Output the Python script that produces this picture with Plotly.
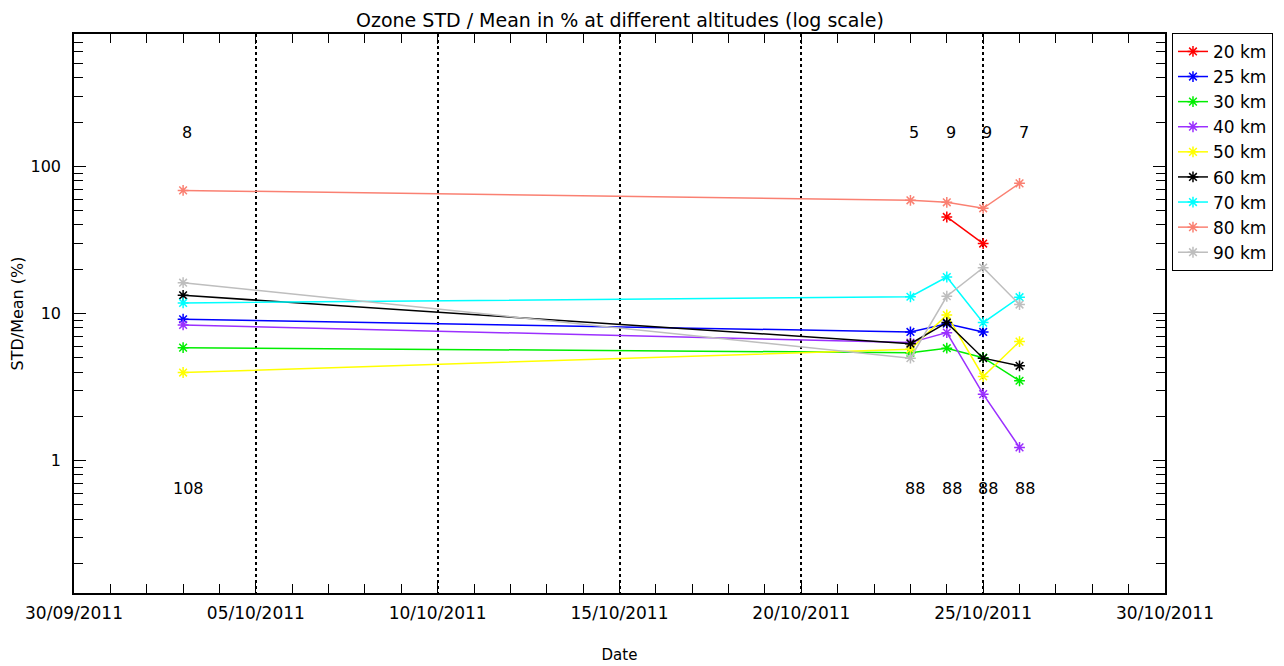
import plotly.graph_objects as go

dates = ["2011-10-03", "2011-10-23", "2011-10-24", "2011-10-25", "2011-10-26"]

s20 = [None, None, 45.3, 29.9, None]
s25 = [9.14, 7.49, 8.53, 7.49, None]
s30 = [5.86, 5.42, 5.81, 5.01, 3.49]
s40 = [8.36, 6.34, 7.41, 2.83, 1.23]
s50 = [3.97, 5.72, 9.77, 3.73, 6.44]
s60 = [13.3, 6.24, 8.67, 4.97, 4.41]
s70 = [11.8, 13.0, 17.7, 8.67, 12.9]
s80 = [68.7, 58.8, 57.0, 51.9, 76.7]
s90 = [16.2, 4.97, 13.1, 20.5, 11.5]

series_names = ["20 km", "25 km", "30 km", "40 km", "50 km", "60 km", "70 km", "80 km", "90 km"]
series_vals = [s20, s25, s30, s40, s50, s60, s70, s80, s90]
series_colors = ["#ff0000", "#0000ff", "#00ee00", "#9b30ff", "#ffff00", "#000000", "#00ffff", "#fa8072", "#bebebe"]

top_counts = ["8", "5", "9", "9", "7"]
bottom_counts = ["108", "88", "88", "88", "88"]
top_y_log = 2.23
bottom_y_log = -0.19

FONT = "DejaVu Sans"

# page body has an 8px default margin, so the figure is offset by 8px
L, R, T, B = 66, 127, 26, 81

fig = go.Figure()
for name, vals, col in zip(series_names, series_vals, series_colors):
    fig.add_trace(go.Scatter(
        x=dates, y=vals, name=name, mode="lines+markers",
        line=dict(color=col, width=1.5),
        marker=dict(symbol="asterisk-open", size=9, color=col, line=dict(color=col, width=1.5)),
        connectgaps=False,
    ))

for d, t in zip(dates, top_counts):
    fig.add_annotation(x=d, y=top_y_log, yref="y", text=t, showarrow=False, xanchor="center", xshift=4,
                       font=dict(family=FONT, size=16, color="black"))
for d, t in zip(dates, bottom_counts):
    fig.add_annotation(x=d, y=bottom_y_log, yref="y", text=t, showarrow=False, xanchor="center", xshift=5,
                       font=dict(family=FONT, size=16, color="black"))

minor_vals = [m * 10**e for e in range(-1, 3) for m in range(2, 10)]

fig.update_layout(
    width=1284, height=666,
    paper_bgcolor="white", plot_bgcolor="white",
    margin=dict(l=L, r=R, t=T, b=B, autoexpand=False),
    font=dict(family=FONT, size=15, color="black"),
    showlegend=True,
    legend=dict(x=1.0064, y=1.002, xanchor="left", yanchor="top", bordercolor="black", borderwidth=1,
                bgcolor="white", font=dict(family=FONT, size=17), tracegroupgap=0,
                itemwidth=30),
)

# title drawn as a paper-anchored annotation centred over the plot area
fig.add_annotation(text="Ozone STD / Mean in % at different altitudes (log scale)",
                   xref="paper", yref="paper", x=0.5, y=1.0, xanchor="center", yanchor="bottom",
                   yshift=1, showarrow=False,
                   font=dict(family=FONT, size=19, color="black"))

fig.update_xaxes(
    type="date", range=["2011-09-30", "2011-10-30"],
    tick0="2011-09-30", dtick=5 * 86400000, tickformat="%d/%m/%Y",
    ticks="inside", ticklen=10, tickcolor="black", ticklabelstandoff=4,
    showline=True, linecolor="black", linewidth=1.5, mirror="ticks",
    showgrid=True, gridcolor="black", griddash="dot", gridwidth=1.5,
    minor=dict(dtick=86400000, ticks="inside", ticklen=9, tickcolor="black", showgrid=False),
    title=dict(text="Date", font=dict(family=FONT, size=15), standoff=27),
    tickfont=dict(family=FONT, size=17),
    zeroline=False, automargin=False,
)

fig.update_yaxes(
    type="log", range=[-0.9, 2.9],
    tickvals=[1, 10, 100], ticktext=["1", "10", "100"],
    ticks="inside", ticklen=12, tickcolor="black", ticklabelstandoff=8,
    showline=True, linecolor="black", linewidth=1.5, mirror="ticks",
    showgrid=False, zeroline=False, automargin=False,
    minor=dict(tickvals=minor_vals, ticks="inside", ticklen=9, tickcolor="black", showgrid=False),
    title=dict(text="STD/Mean (%)", font=dict(family=FONT, size=16), standoff=6),
    tickfont=dict(family=FONT, size=16),
)

fig.write_html("out.html")
